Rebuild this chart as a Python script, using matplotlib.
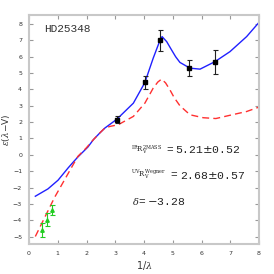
import matplotlib
matplotlib.use("Agg")
import matplotlib.pyplot as plt

# Model curves
blue_x = [0.22, 0.66, 1.01, 1.36, 1.53, 1.70, 2.05, 2.24, 2.47, 2.64, 3.05, 3.63, 4.03, 4.32, 4.56, 4.63, 4.79, 4.96, 5.1, 5.25, 5.6, 5.95, 6.47, 6.99, 7.57, 8.0]
blue_y = [-2.53, -2.08, -1.55, -0.80, -0.46, -0.13, 0.48, 0.93, 1.35, 1.64, 2.17, 3.16, 4.42, 5.91, 7.02, 7.23, 6.92, 6.41, 6.0, 5.65, 5.30, 5.24, 5.70, 6.31, 7.23, 8.1]

red_x = [0.22, 0.89, 1.70, 1.99, 2.24, 2.47, 2.64, 2.82, 3.1, 3.63, 4.03, 4.32, 4.48, 4.61, 4.75, 4.9, 5.05, 5.25, 5.6, 6.06, 6.5, 6.99, 7.57, 8.0]
red_y = [-4.99, -2.6, -0.09, 0.42, 0.93, 1.35, 1.64, 1.74, 1.84, 2.35, 3.16, 4.08, 4.45, 4.63, 4.4, 3.98, 3.5, 3.0, 2.45, 2.27, 2.22, 2.42, 2.65, 2.92]

# Observed points
uv_x = [3.06, 4.02, 4.57, 5.58, 6.48]
uv_y = [2.15, 4.45, 7.0, 5.3, 5.7]
uv_err = [0.2, 0.4, 0.64, 0.48, 0.73]

ir_x = [0.46, 0.64, 0.81]
ir_y = [-4.62, -3.98, -3.37]
ir_err = [0.43, 0.4, 0.3]

x_ticks = [0, 1, 2, 3, 4, 5, 6, 7, 8]
y_ticks = [-5, -4, -3, -2, -1, 0, 1, 2, 3, 4, 5, 6, 7, 8]

star_name = "HD25348"
ir_rv = "5.21$\\pm$0.52"
uv_rv = "2.68$\\pm$0.57"
delta = "$-$3.28"

plt.rcParams["mathtext.fontset"] = "dejavuserif"

fig = plt.figure(figsize=(2.74, 2.74), dpi=100)
ax = fig.add_axes([29/274, 30/274, 230/274, 229/274])

ax.plot(blue_x, blue_y, color="#2020ff", lw=1.0)
ax.plot(red_x, red_y, color="#ff3030", lw=1.0, dashes=(5, 3))

ax.errorbar(uv_x, uv_y, yerr=uv_err, fmt="s", color="black", ms=2.5,
            ecolor="#222222", elinewidth=0.8, capsize=1.8, capthick=0.8)
ax.errorbar(ir_x, ir_y, yerr=ir_err, fmt="^", color="#22cc22", ms=2.5,
            ecolor="#22cc22", elinewidth=0.8, capsize=1.8, capthick=0.8)

ax.set_xlim(0, 8)
ax.set_ylim(-5.45, 8.55)
ax.set_xticks(x_ticks)
ax.set_yticks(y_ticks)
ax.tick_params(direction="in", length=3, width=0.8, color="#999999",
               labelsize=4.5, labelcolor="#333333", top=True, right=True, pad=5)
for s in ax.spines.values():
    s.set_color("#c8c8c8")
    s.set_linewidth(1.5)

mono = "Liberation Mono"
tc = "#222222"
ax.text(0.53, 7.7, star_name, family=mono, fontsize=8, color="#333333", va="center")

ax.text(3.55, 0.3, r"$^{\mathrm{IR}}\mathrm{R}_{\mathrm{V}}^{\mathrm{2MASS}}$", fontsize=5.0, color=tc, va="center")
ax.text(4.88, 0.3, "=", family=mono, fontsize=8, color=tc, va="center", ha="center")
ax.text(5.08, 0.3, ir_rv, family=mono, fontsize=8.2, color=tc, va="center")

ax.text(3.55, -1.25, r"$^{\mathrm{UV}}\mathrm{R}_{\mathrm{V}}^{\mathrm{Wegner}}$", fontsize=5.0, color=tc, va="center")
ax.text(5.04, -1.25, "=", family=mono, fontsize=8, color=tc, va="center", ha="center")
ax.text(5.25, -1.25, uv_rv, family=mono, fontsize=8.2, color=tc, va="center")

ax.text(3.57, -2.87, r"$\delta$", fontsize=7, color=tc, va="center")
ax.text(3.92, -2.87, "=", family=mono, fontsize=8, color=tc, va="center", ha="center")
ax.text(4.1, -2.87, delta, family=mono, fontsize=8.2, color=tc, va="center")

ax.set_xlabel(r"1/$\lambda$", fontsize=7, color="#333333", labelpad=2)
ax.set_ylabel(r"$\epsilon$($\lambda$$-$V)", fontsize=6.5, color="#333333")
ax.yaxis.set_label_coords(-0.075, 0.5)

fig.savefig("out.png", dpi=100)
